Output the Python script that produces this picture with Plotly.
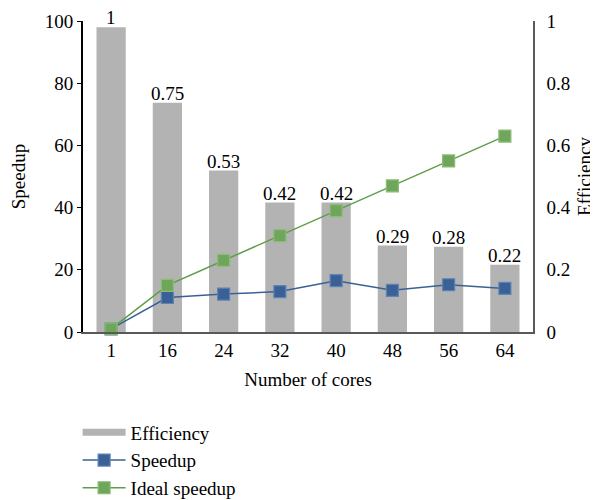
import plotly.graph_objects as go

cores = ["1", "16", "24", "32", "40", "48", "56", "64"]
efficiency = [0.98, 0.737, 0.519, 0.416, 0.416, 0.278, 0.274, 0.216]
efficiency_labels = ["1", "0.75", "0.53", "0.42", "0.42", "0.29", "0.28", "0.22"]
speedup = [1, 11.1, 12.2, 13.0, 16.5, 13.4, 15.2, 14.0]
ideal_speedup = [1, 15, 23, 31, 39, 47, 55, 63]

FONT = "Liberation Serif"
FS = 19
GRAY = "#B3B3B3"
BLUE = "#3A6195"
BLUE_EDGE = "#5F83B6"
GREEN_LINE = "#5E9E48"
GREEN = "#6FA65A"
GREEN_EDGE = "#8DBB78"

fig = go.Figure()
fig.add_trace(go.Bar(
    x=cores, y=efficiency, yaxis="y", name="Efficiency",
    marker=dict(color=GRAY, line=dict(width=0)),
    showlegend=False,
))
fig.add_trace(go.Scatter(
    x=[None], y=[None], yaxis="y", name="Efficiency", mode="lines",
    line=dict(color=GRAY, width=7),
))
fig.add_trace(go.Scatter(
    x=cores, y=speedup, yaxis="y2", name="Speedup", mode="lines+markers",
    line=dict(color=BLUE, width=1.5),
    marker=dict(symbol="square", size=12, color=BLUE, line=dict(color=BLUE_EDGE, width=1.2)),
    cliponaxis=False,
))
fig.add_trace(go.Scatter(
    x=cores, y=ideal_speedup, yaxis="y2", name="Ideal speedup", mode="lines+markers",
    line=dict(color=GREEN_LINE, width=1.5),
    marker=dict(symbol="square", size=12, color=GREEN, line=dict(color=GREEN_EDGE, width=1.2)),
    cliponaxis=False,
))

# data labels above the bars (category index positions on the x axis)
for i, (v, lab) in enumerate(zip(efficiency, efficiency_labels)):
    fig.add_annotation(
        x=i, y=v, xref="x", yref="y", text=lab, showarrow=False,
        yanchor="bottom", yshift=-2, borderpad=0,
        font=dict(family=FONT, size=FS, color="black"),
    )

fig.update_layout(
    width=590, height=492,
    margin=dict(l=75, r=65, t=13, b=168, autoexpand=False),
    paper_bgcolor="white", plot_bgcolor="white",
    font=dict(family=FONT, size=FS, color="black"),
    bargap=0.48,
    xaxis=dict(
        type="category", categoryorder="array", categoryarray=cores,
        range=[-0.5, len(cores) - 0.5],
        showgrid=False, zeroline=False,
        showline=True, linecolor="#595959", linewidth=2,
        ticks="", tickfont=dict(size=FS), automargin=False,
        title=dict(text="Number of cores", standoff=13, font=dict(size=FS)),
    ),
    yaxis=dict(
        side="right", range=[0, 1], tickvals=[0, 0.2, 0.4, 0.6, 0.8, 1],
        showgrid=False, zeroline=False, showline=True, linecolor="#595959", linewidth=1.5,
        ticks="", ticklabelstandoff=8, automargin=False,
        title=dict(text="Efficiency", standoff=8, font=dict(size=FS)),
    ),
    yaxis2=dict(
        side="left", overlaying="y", range=[0, 100], tickvals=[0, 20, 40, 60, 80, 100],
        showgrid=False, zeroline=False, showline=True, linecolor="black", linewidth=2,
        ticks="outside", ticklen=4, tickcolor="black", tickwidth=1, automargin=False,
        title=dict(text="Speedup", standoff=14, font=dict(size=FS)),
    ),
    legend=dict(
        orientation="v", x=-0.012, xanchor="left", y=-0.262, yanchor="top",
        font=dict(size=FS), bgcolor="rgba(0,0,0,0)", tracegroupgap=0,
        itemwidth=43,
    ),
)

fig.write_html("out.html")
